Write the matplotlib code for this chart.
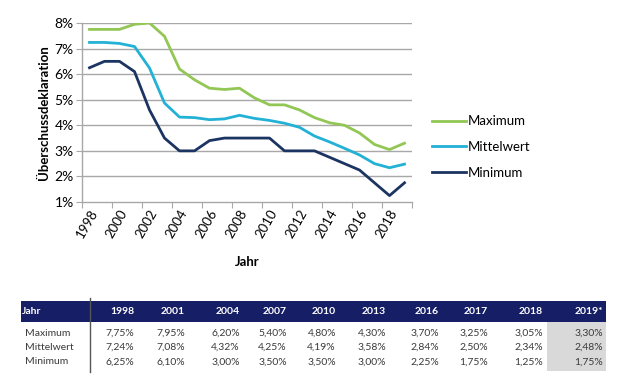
import numpy as np
import matplotlib
matplotlib.use("Agg")
import matplotlib.pyplot as plt
from matplotlib.patches import Rectangle
from matplotlib.lines import Line2D

plt.rcParams['font.family'] = ['Lato', 'DejaVu Sans']

# Daten aus dem Diagramm (1998-2019)
jahre = list(range(1998, 2020))
maximum = [7.75, 7.75, 7.75, 7.95, 8.00, 7.48, 6.20, 5.78, 5.45, 5.40, 5.45,
           5.07, 4.80, 4.80, 4.60, 4.30, 4.10, 4.00, 3.70, 3.25, 3.05, 3.30]
mittelwert = [7.24, 7.24, 7.20, 7.08, 6.24, 4.87, 4.32, 4.30, 4.22, 4.25, 4.39,
              4.27, 4.19, 4.08, 3.92, 3.58, 3.35, 3.10, 2.84, 2.50, 2.34, 2.48]
minimum = [6.25, 6.50, 6.50, 6.10, 4.60, 3.50, 3.00, 3.00, 3.40, 3.50, 3.50,
           3.50, 3.50, 3.00, 3.00, 3.00, 2.75, 2.50, 2.25, 1.75, 1.25, 1.75]

# Tabelle
tab_jahre = ["1998", "2001", "2004", "2007", "2010", "2013", "2016", "2017", "2018", "2019*"]
tab_max = ["7,75%", "7,95%", "6,20%", "5,40%", "4,80%", "4,30%", "3,70%", "3,25%", "3,05%", "3,30%"]
tab_mittel = ["7,24%", "7,08%", "4,32%", "4,25%", "4,19%", "3,58%", "2,84%", "2,50%", "2,34%", "2,48%"]
tab_min = ["6,25%", "6,10%", "3,00%", "3,50%", "3,50%", "3,00%", "2,25%", "1,75%", "1,25%", "1,75%"]

c_max = '#92c655'
c_mit = '#23b1d6'
c_min = '#1c3462'
navy = '#161f66'
grid_c = '#a8a8a8'

W, H = 621, 383
fig = plt.figure(figsize=(W / 100, H / 100), dpi=100)

ax = fig.add_axes([82 / W, 1 - 202 / H, 330 / W, 179 / H])
x = np.arange(len(jahre))
for vals, col, lab in [(maximum, c_max, "Maximum"), (mittelwert, c_mit, "Mittelwert"),
                       (minimum, c_min, "Minimum")]:
    ax.plot(x, vals, color=col, lw=2.0, solid_joinstyle='round', label=lab)

ax.set_xlim(-0.5, len(jahre) - 0.5)
ax.set_ylim(1, 8)
ax.set_yticks(range(1, 9))
ax.set_yticklabels([f"{v}%" for v in range(1, 9)], fontsize=10)
for v in range(2, 9):
    ax.axhline(v, color=grid_c, lw=1.0, zorder=0)

ax.set_xticks(np.arange(-0.5, len(jahre), 2), minor=False)
ax.set_xticklabels([])
ax.set_xticks(np.arange(0, len(jahre), 2), minor=True)
ax.set_xticklabels([str(j) for j in jahre[::2]], minor=True, rotation=60,
                   ha='right', va='top', rotation_mode='anchor', fontsize=9.5)
ax.tick_params(axis='x', which='minor', length=0, pad=4)
ax.tick_params(axis='x', which='major', length=4, color=grid_c)
ax.tick_params(axis='y', length=4, color=grid_c, pad=2)

for s in ['top', 'right']:
    ax.spines[s].set_visible(False)
for s in ['left', 'bottom']:
    ax.spines[s].set_color(grid_c)
    ax.spines[s].set_linewidth(1.0)

ax.set_ylabel("Überschussdeklaration", fontsize=9.5, fontweight='bold', labelpad=3)
fig.text(247 / W, 1 - 262 / H, "Jahr", fontsize=9.5, fontweight='bold', ha='center', va='center')

ax.legend(loc='center left', bbox_to_anchor=(420 / W, 1 - 147 / H), bbox_transform=fig.transFigure,
          frameon=False, fontsize=9.5, handlelength=2.6, handletextpad=0.1, labelspacing=1.05)

# Tabelle unten
def fy(py):
    return 1 - py / H

def fx(px):
    return px / W

fig.patches.append(Rectangle((fx(21), fy(322)), fx(606) - fx(21), fy(301) - fy(322),
                             transform=fig.transFigure, facecolor=navy, edgecolor='none'))
fig.patches.append(Rectangle((fx(547), fy(371)), fx(606) - fx(547), fy(322) - fy(371),
                             transform=fig.transFigure, facecolor='#d9d9d9', edgecolor='none'))
fig.lines.append(Line2D([fx(90), fx(90)], [fy(298), fy(372)], transform=fig.transFigure,
                        color='#555555', lw=1.0))

col_right = [134, 185, 240, 287, 336, 386, 439, 488, 543, 603]
fig.text(fx(22), fy(312), "Jahr", color='white', fontsize=7.5, fontweight='bold', va='center')
for xr, j in zip(col_right, tab_jahre):
    fig.text(fx(xr), fy(312), j, color='white', fontsize=7.5, fontweight='bold', ha='right', va='center')

rows = [("Maximum", tab_max, 333), ("Mittelwert", tab_mittel, 347), ("Minimum", tab_min, 362)]
for name, vals, py in rows:
    fig.text(fx(25), fy(py), name, color='#3a3a3a', fontsize=7.5, va='center')
    for xr, v in zip(col_right, vals):
        fig.text(fx(xr), fy(py), v, color='#3a3a3a', fontsize=7.5, ha='right', va='center')

fig.savefig("out.png", dpi=100, facecolor='white')
